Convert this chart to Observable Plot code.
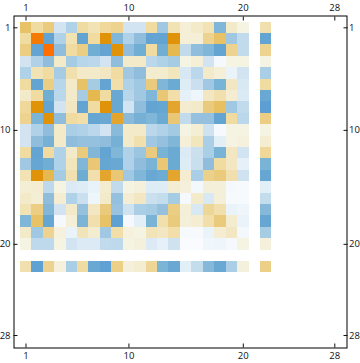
<!DOCTYPE html>
<html><head><meta charset="utf-8">
<script src="https://cdn.jsdelivr.net/npm/d3@7"></script>
<script src="https://cdn.jsdelivr.net/npm/@observablehq/plot@0.6"></script>
<style>html,body{margin:0;padding:0;background:#fff}svg{display:block}</style>
</head><body><div id="c"></div><script>
const tickLabels=[1,10,20,28];
const _=null;
const row1=[4.5,3,4,-2,-3,3,2.5,3.2,3.5,-2,-2,3,-3.5,2.5,1.5,2,2.5,-4.5,2,1,_,2.7];
const row2=[3,9,-5.5,-3,2.5,-5.5,3,7,-4.5,-3,-4,-5.5,-5.5,7,1.5,1.5,3.5,4.5,-3.5,-2.5,_,-5.5];
const row3=[3.8,-5.5,10,-4,3,3.8,-5,-5.5,7,-4,-5,3,-5,5,-2.5,-4,-4.5,-5.5,3.5,-2.5,_,3.5];
const row4=[-2,-3,-4,2,-3.3,-2.8,-2.7,-2,-4,2,2,-2.7,-3,-3.3,1,1.5,-2,-0.5,1,1,_,1];
const row5=[-3,2.5,3,-3.3,2.7,2,2,2.2,3,-3.5,-4,1.8,1.8,2.3,-1.8,-2.7,2,1.5,-1,-2,_,-3.2];
const row6=[3,-5.5,3.8,-2.8,2,4.5,-3.3,-5.5,2.8,-3,-3.5,4,-4.5,-5.2,-1.5,-2.2,-3.5,-4.7,2.2,-1.7,_,3];
const row7=[2,3,-5,-2.7,2,-3.3,5,3,-5.3,-2.8,-3.5,-4.5,4.2,2.8,-1.2,-0.8,2.2,2.7,1.7,-1.6,_,-5.3];
const row8=[3.2,7,-5.5,-2,2.2,-5.5,3,7,-5.3,-2,-4,-5.5,-5.4,6,1.8,2,4,4.6,-3.5,-2.5,_,-5.7];
const row9=[3.5,-4.6,7,-4,3,2.8,-5.4,-5.3,6,-4.2,-4.8,-4.5,-5.2,4.2,-2.5,-3.8,-3.8,-5.5,3,-2.7,_,3.8];
const row10=[-2,-3,-4,2,-3.2,-3,-2.7,-2,-4.2,2,2,-2.7,-3,-3.4,1,1.6,-2.1,-0.5,1,1,_,1];
const row11=[-2,-4,-4.8,2,-4,-3.8,-3.8,-4,-4.8,2,2.7,-3.5,-3.8,-4.5,1.5,2.3,-3.2,-1.3,1,1.2,_,1.7];
const row12=[3,-5.5,3,-3,2,4,-4.4,-5.5,-4.5,-3,-3.6,4,-4.7,-5.2,-1.6,-2.2,-3.2,-4.7,2.2,-2,_,3.2];
const row13=[-3.5,-5.4,-5,-3,2.3,-4.5,4.2,-5.4,-5.3,-3,-4,-4.7,4.2,-5.2,-1.5,-2.3,-4,3,2.2,-1.2,_,-4.7];
const row14=[2.5,7,5,-3.3,2.6,-5.1,2.7,6,4.2,-3.5,-4.5,-5.3,-5.1,6,1.7,-3.2,3.6,4,2.7,-2.1,_,-5.4];
const row15=[1.6,1.7,-2.6,1,-1.6,-1.5,-1.1,1.8,-2.5,1,1.3,-1.5,-1.5,1.7,1.3,-0.6,1.4,1.4,-0.5,-0.4,_,-1.3];
const row16=[2,1.6,-4,1.7,-3,-2.2,-0.8,2,-3.8,1.7,2.2,-2.2,-2.4,-3.3,-0.5,1.9,-1.7,1.4,-0.4,-0.4,_,-2.4];
const row17=[2.5,3.8,-4.4,-2,2,-3.8,2.2,4,-3.7,-2.1,-3.2,-3.3,-3.8,3.8,1.4,-1.7,3.3,2.7,-1,-0.8,_,-4.3];
const row18=[-4.5,4.5,-5.4,-0.5,1.5,-4.6,2.7,4.5,-5.6,-0.5,-1.3,-4.7,2.7,4,1.4,1.7,2.8,4,1.8,-1,_,-5.4];
const row19=[2,-3.5,3.5,1.2,-1,2.4,1.8,-3.5,2.8,1.2,1,2.4,2.2,2.8,-0.4,-0.4,-1,1.7,2.2,-0.6,_,-3.3];
const row20=[1,-2.6,-2.6,1,-2,-1.6,-1.6,-2.5,-2.6,1,1.3,-1.6,-1.2,-2.1,-0.3,-0.3,-0.7,-0.8,-0.5,1,_,1.3];
const row22=[2.7,-5.6,3.5,1.2,-3.2,3,-5.3,-5.6,3.7,1.3,1.7,3.3,-4.6,-5.3,-1.3,-2.4,-4.3,-5.3,-3.2,1.3,_,3.7];
const rows=[[1,row1],[2,row2],[3,row3],[4,row4],[5,row5],[6,row6],[7,row7],[8,row8],[9,row9],[10,row10],[11,row11],[12,row12],[13,row13],[14,row14],[15,row15],[16,row16],[17,row17],[18,row18],[19,row19],[20,row20],[22,row22]];
const stops=[-6,-5,-4,-3,-2,-1,0,1,2,3,4,5,7,10];
const stopColors=["#5599d3","#70aed3","#8fbddb","#b0d2e8","#d2e4f1","#eaf3fa","#ffffff","#f5f3e2","#f3eaca","#f0dba0","#eacb7d","#e6b850","#e09209","#ff6e00"];
const cells=rows.flatMap(([r,vals])=>vals.map((v,i)=>({r,c:i+1,v})).filter(d=>d.v!==null));
const axis={ticks:tickLabels,tickFormat:d=>String(d),label:null,tickSize:-4,fontSize:9.5};
const chart=Plot.plot({
  width:360,height:363,marginLeft:13.5,marginRight:13.5,marginTop:15.5,marginBottom:15.5,
  style:{fontFamily:"'Open Sans',sans-serif",background:"#fff",color:"#111"},
  x:{domain:[1,28],range:[25.5,334.3]},
  y:{domain:[1,28],range:[27.3,335]},
  color:{type:"linear",domain:stops,range:stopColors,interpolate:"rgb"},
  marks:[
    Plot.rect(cells,{x1:d=>d.c-0.5,x2:d=>d.c+0.5,y1:d=>d.r-0.5,y2:d=>d.r+0.5,fill:"v",inset:0,shapeRendering:"crispEdges"}),
    Plot.frame({stroke:"#000",strokeWidth:1}),
    Plot.axisX({...axis,anchor:"top",tickPadding:9}),
    Plot.axisX({...axis,anchor:"bottom",tickPadding:8.5}),
    Plot.axisY({...axis,anchor:"left",tickPadding:7.5}),
    Plot.axisY({...axis,anchor:"right",tickPadding:6})
  ]
});
document.getElementById("c").append(chart);
</script></body></html>
